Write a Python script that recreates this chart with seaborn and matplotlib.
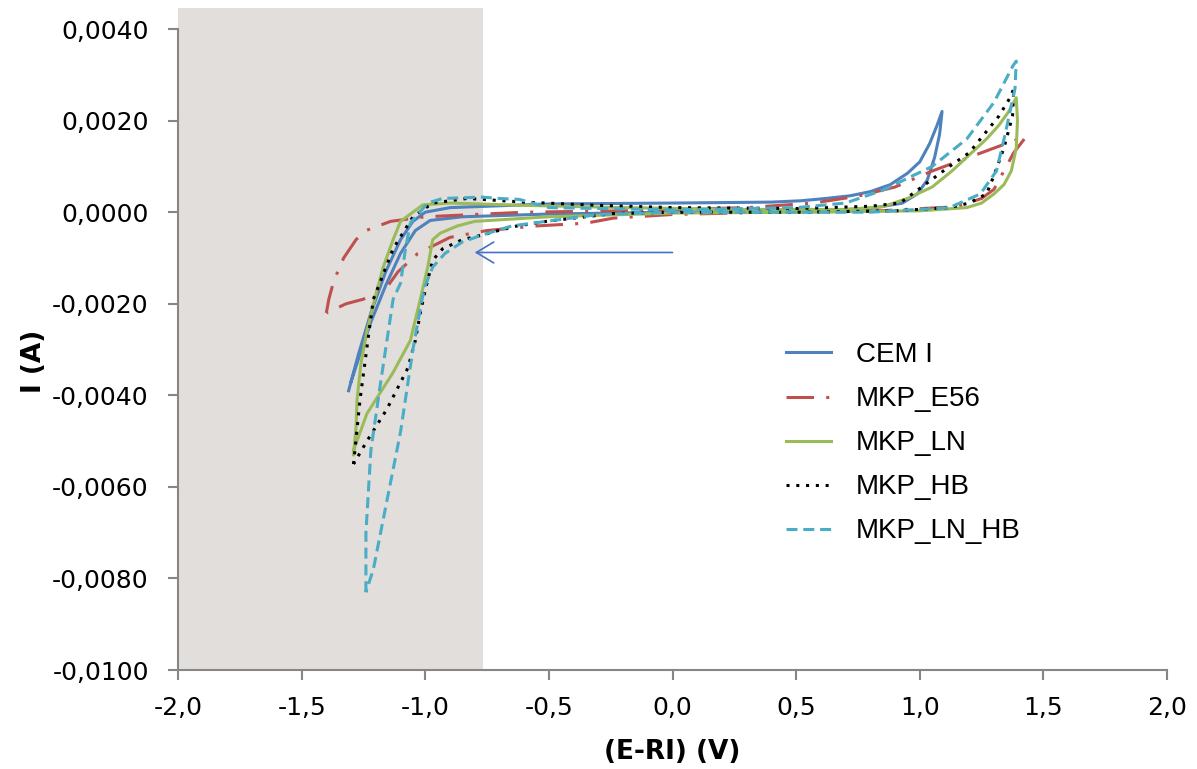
import seaborn as sns
import pandas as pd
import numpy as np
import matplotlib.pyplot as plt
from matplotlib.ticker import FuncFormatter

# cyclic voltammograms, each list is one closed loop
E_cem = [-1.31, -1.27, -1.22, -1.16, -1.10, -1.05, -1.00, -0.90, -0.50, 0.00, 0.40, 0.52, 0.62, 0.72, 0.80,
         0.88, 0.95, 1.00, 1.04, 1.07, 1.09, 1.08, 1.06, 1.03, 0.99, 0.93, 0.80, 0.50, 0.00, -0.50, -0.85,
         -0.98, -1.04, -1.10, -1.16, -1.22, -1.27, -1.30]
I_cem = [-0.0039, -0.0031, -0.0022, -0.0013, -0.0006, -0.0002, 0.0000, 0.0001, 0.00018, 0.0002, 0.00022,
         0.00025, 0.0003, 0.00036, 0.00045, 0.0006, 0.00085, 0.0011, 0.0015, 0.0019, 0.0022, 0.0017,
         0.0012, 0.0007, 0.0004, 0.0002, 0.00008, 0.00002, 0.0, -0.00004, -0.0001, -0.00018, -0.0004,
         -0.0009, -0.0016, -0.0024, -0.0032, -0.0037]

E_e56 = [-1.40, -1.39, -1.37, -1.33, -1.28, -1.24, -1.14, -1.00, -0.60, -0.20, 0.30, 0.57, 0.75, 0.90,
         1.05, 1.20, 1.30, 1.40, 1.43, 1.38, 1.34, 1.30, 1.25, 1.15, 0.80, 0.40, 0.00, -0.24, -0.35,
         -0.55, -0.75, -0.90, -1.03, -1.11, -1.15, -1.25, -1.32, -1.40]
I_e56 = [-0.0022, -0.0019, -0.0015, -0.0010, -0.0006, -0.0004, -0.0002, -0.0001, 0.0, 0.00003, 0.0001,
         0.0002, 0.00035, 0.00055, 0.0009, 0.0012, 0.0014, 0.0016, 0.00165, 0.0013, 0.0009, 0.0005,
         0.0003, 0.00012, 0.00002, 0.0, -0.00005, -0.00013, -0.00024, -0.0003, -0.0004, -0.00055,
         -0.0009, -0.0013, -0.0016, -0.0019, -0.0020, -0.0022]

E_ln = [-1.29, -1.28, -1.276, -1.26, -1.236, -1.20, -1.17, -1.13, -1.10, -1.05, -1.01, -0.90, -0.60,
        -0.20, 0.30, 0.70, 0.85, 0.95, 1.05, 1.13, 1.21, 1.27, 1.32, 1.36, 1.39, 1.395, 1.39, 1.37, 1.34,
        1.30, 1.25, 1.19, 1.00, 0.50, 0.00, -0.50, -0.80, -0.87, -0.94, -0.97, -0.99, -1.02, -1.06,
        -1.13, -1.236, -1.29]
I_ln = [-0.0053, -0.0047, -0.0041, -0.0033, -0.0026, -0.0018, -0.0012, -0.0006, -0.0002, 0.0000,
        0.00016, 0.0002, 0.00015, 0.0001, 0.00006, 0.00006, 0.00012, 0.0003, 0.00055, 0.0009, 0.0013,
        0.0016, 0.0019, 0.0022, 0.0025, 0.0020, 0.0014, 0.0009, 0.0006, 0.0004, 0.0002, 0.0001, 0.00003,
        0.0, -0.00002, -0.0001, -0.0002, -0.0003, -0.00046, -0.0006, -0.0012, -0.0019, -0.0028, -0.0035,
        -0.0044, -0.0052]

E_hb = [-1.29, -1.264, -1.21, -1.195, -1.13, -1.05, -0.97, -0.83, -0.60, -0.30, 0.00, 0.50, 0.80, 0.92,
        1.02, 1.12, 1.20, 1.26, 1.32, 1.365, 1.38, 1.375, 1.34, 1.30, 1.27, 1.20, 1.12, 0.90, 0.50, 0.00,
        -0.24, -0.51, -0.65, -0.77, -0.85, -0.93, -0.97, -1.00, -1.02, -1.04, -1.07, -1.155, -1.236,
        -1.29]
I_hb = [-0.0055, -0.0041, -0.0019, -0.0017, -0.0008, -0.0001, 0.0002, 0.0003, 0.00022, 0.00015, 0.0001,
        0.00008, 0.00013, 0.0002, 0.0006, 0.0010, 0.0013, 0.0017, 0.0021, 0.0025, 0.0027, 0.0021, 0.0014,
        0.0008, 0.0004, 0.0002, 0.0001, 0.00003, 0.0, 0.0, -0.00003, -0.0002, -0.00032, -0.0005,
        -0.0006, -0.0008, -0.00105, -0.0017, -0.0022, -0.0028, -0.0034, -0.0043, -0.0050, -0.0055]

E_lnhb = [-1.24, -1.24, -1.22, -1.18, -1.13, -1.10, -1.08, -1.06, -0.99, -0.93, -0.77, -0.70, -0.62,
          -0.50, 0.00, 0.50, 0.70, 0.85, 1.05, 1.19, 1.30, 1.377, 1.39, 1.385, 1.345, 1.31, 1.245, 1.12,
          0.80, 0.00, -0.30, -0.51, -0.65, -0.77, -0.85, -0.92, -0.97, -1.00, -1.013, -1.05, -1.10,
          -1.155, -1.21, -1.24]
I_lnhb = [-0.0083, -0.0070, -0.0052, -0.0037, -0.0019, -0.00155, -0.0008, -0.00023, 0.0002, 0.0003,
          0.00033, 0.0003, 0.00028, 0.0001, 0.00005, 0.0001, 0.0002, 0.00048, 0.0010, 0.0016, 0.0024,
          0.0032, 0.0033, 0.0027, 0.0017, 0.0009, 0.0004, 0.0001, 0.0, 0.0, -0.00005, -0.0002, -0.0003,
          -0.0005, -0.00065, -0.0009, -0.0012, -0.0016, -0.0019, -0.0030, -0.0048, -0.0063, -0.0078,
          -0.0083]

series = ['CEM I', 'MKP_E56', 'MKP_LN', 'MKP_HB', 'MKP_LN_HB']
colors = ['#4F81BD', '#C0504D', '#9BBB59', '#000000', '#4BACC6']

x_ticks = [-2.0, -1.5, -1.0, -0.5, 0.0, 0.5, 1.0, 1.5, 2.0]
y_ticks = [-0.010, -0.008, -0.006, -0.004, -0.002, 0.0, 0.002, 0.004]

frames = []
for name, E, I in zip(series, [E_cem, E_e56, E_ln, E_hb, E_lnhb], [I_cem, I_e56, I_ln, I_hb, I_lnhb]):
    frames.append(pd.DataFrame({'E': E, 'I': I, 'serie': name, 'step': range(len(E))}))
df = pd.concat(frames, ignore_index=True)

fig = plt.figure(figsize=(11.97, 7.69), dpi=100)
ax = fig.add_axes([0.1487, 0.1287, 0.8263, 0.8603])

# grey zone on the cathodic side
ax.axvspan(-2.0, -0.765, color='#e1dedc', lw=0, zorder=0)

dashes = {'CEM I': '', 'MKP_E56': (9, 4, 1, 4), 'MKP_LN': '',
          'MKP_HB': (1, 2.2), 'MKP_LN_HB': (3.6, 1.9)}
sns.lineplot(data=df, x='E', y='I', hue='serie', style='serie', units='serie', estimator=None,
             sort=False, palette=dict(zip(series, colors)), dashes=dashes, lw=2.2, ax=ax)

ax.annotate('', xy=(-0.80, -0.00088), xytext=(0.0, -0.00088),
            arrowprops=dict(arrowstyle='->,head_length=0.5,head_width=0.3', color='#4472C4',
                            lw=1.2, mutation_scale=25, shrinkA=0, shrinkB=0))

ax.set_xlim(-2.0, 2.0)
ax.set_ylim(-0.010, 0.00445)
ax.set_xticks(x_ticks)
ax.set_yticks(y_ticks)
ax.xaxis.set_major_formatter(FuncFormatter(lambda v, p: f'{abs(v) if abs(v) < 1e-9 else v:.1f}'.replace('.', ',')))
ax.yaxis.set_major_formatter(FuncFormatter(lambda v, p: f'{abs(v) if abs(v) < 1e-9 else v:.4f}'.replace('.', ',')))
ax.tick_params(axis='both', labelsize=18, color='#868686', width=1.5, length=7, direction='out')
ax.tick_params(axis='y', pad=14)
ax.tick_params(axis='x', pad=12)

for s in ['top', 'right']:
    ax.spines[s].set_visible(False)
for s in ['left', 'bottom']:
    ax.spines[s].set_color('#868686')
    ax.spines[s].set_linewidth(1.5)
ax.spines['left'].set_bounds(-0.010, 0.004)
ax.set_facecolor('white')

ax.set_xlabel('(E-RI) (V)', fontsize=19, fontweight='bold')
ax.set_ylabel('I (A)', fontsize=19, fontweight='bold')
ax.xaxis.set_label_coords(0.5, -0.105)
ax.yaxis.set_label_coords(-0.132, 0.467)

old = ax.get_legend()
handles = old.legend_handles
labels = [t.get_text() for t in old.get_texts()]
old.remove()
ax.legend(handles, labels, loc='upper left', bbox_to_anchor=(0.657, 0.555),
          bbox_transform=fig.transFigure, frameon=False, borderpad=0, borderaxespad=0,
          handlelength=1.6, handletextpad=0.9, labelspacing=0.65,
          prop={'family': 'Liberation Sans', 'size': 20})

plt.savefig('out.png', dpi=100)
